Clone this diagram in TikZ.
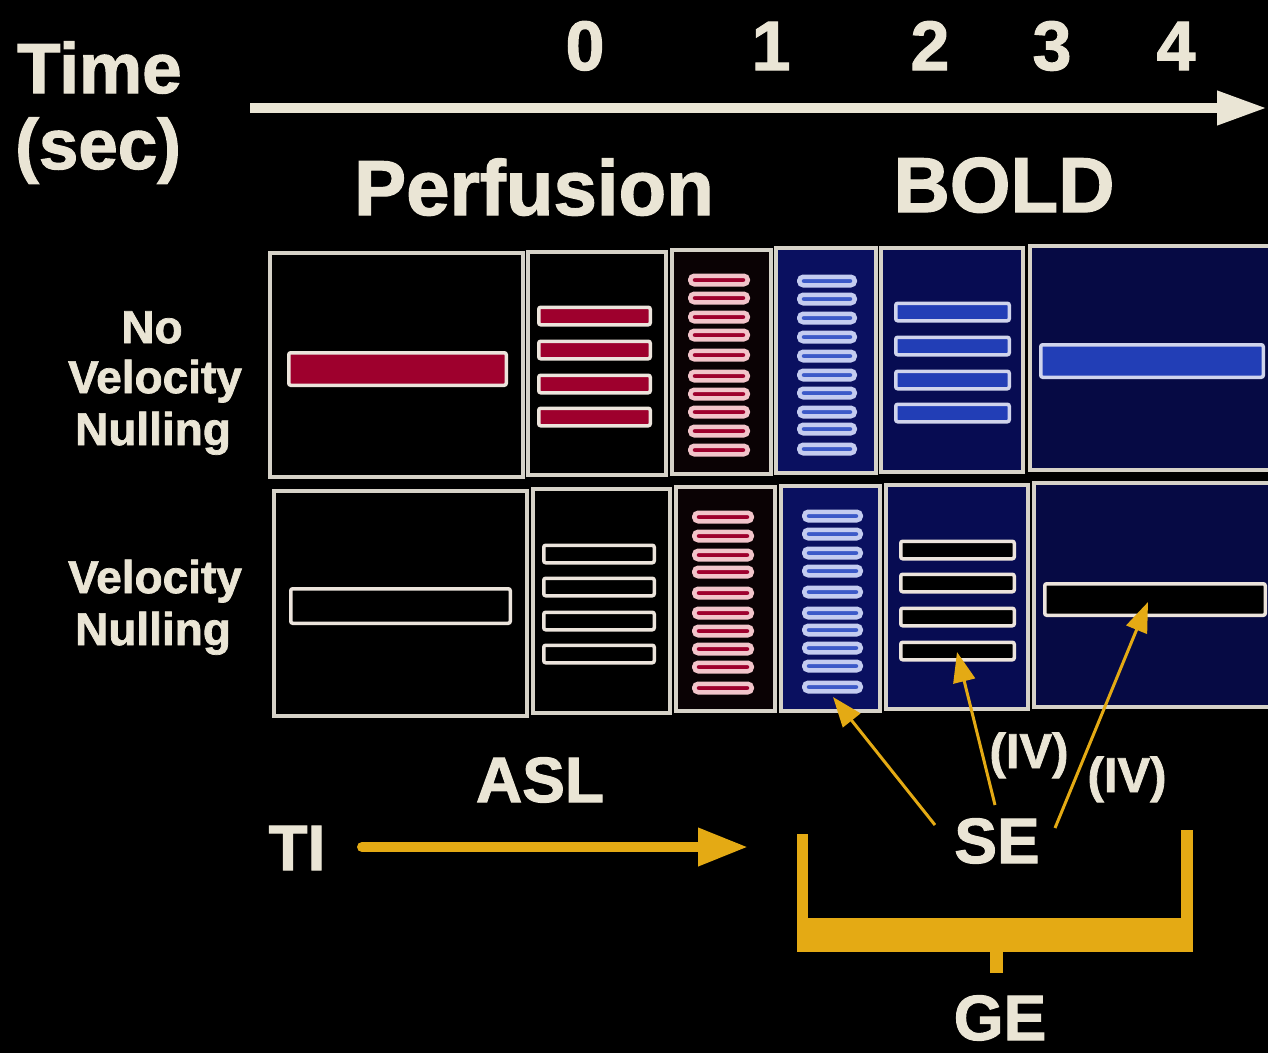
\documentclass[tikz,border=0pt]{standalone}
\usepackage{fontspec}
\setmainfont{Liberation Sans}[BoldFeatures={FakeBold=1.6}]
\usetikzlibrary{arrows.meta}
\definecolor{txt}{RGB}{234,229,213}
\definecolor{frame}{RGB}{214,210,200}
\definecolor{bout}{RGB}{236,228,220}
\definecolor{redf}{RGB}{158,0,45}
\definecolor{pinko}{RGB}{242,196,202}
\definecolor{bluef}{RGB}{34,62,182}
\definecolor{blueo}{RGB}{208,212,236}
\definecolor{sbluef}{RGB}{60,90,200}
\definecolor{sblueo}{RGB}{196,204,240}
\definecolor{navyA}{RGB}{10,16,96}
\definecolor{navyB}{RGB}{7,12,82}
\definecolor{navyC}{RGB}{6,10,68}
\definecolor{darkr}{RGB}{10,2,4}
\definecolor{gold}{RGB}{228,170,20}
\newcommand\myfs[1]{\fontsize{#1}{#1}\selectfont\bfseries}
\begin{document}
\begin{tikzpicture}[x=1pt,y=-1pt,
  lbl/.style={text=txt,inner sep=0pt,anchor=base,font=\myfs{#1}},
  panel/.style={draw=frame,line width=3.5pt},
  bar/.style={rectangle,inner sep=0pt,line width=3.5pt,rounded corners=2pt},
  bigred/.style={bar,draw=bout,fill=redf},
  smallred/.style={bar,draw=pinko,fill=redf,line width=4.5pt,rounded corners=4pt,minimum height=8.5pt},
  bigblue/.style={bar,draw=blueo,fill=bluef},
  smallblue/.style={bar,draw=sblueo,fill=sbluef,line width=4.5pt,rounded corners=4pt,minimum height=8.5pt},
  hollow/.style={bar,draw=bout,fill=black},
  goldarrow/.style={draw=gold,line width=3pt,-{Triangle[length=30pt,width=22pt]}}
]
\useasboundingbox (0,0) rectangle (1268,1053);
\clip (0,0) rectangle (1268,1053);
\fill[black] (0,0) rectangle (1268,1053);

% time axis
\node[lbl=71,anchor=base west] (time) at (17,93) {Time};
\node[lbl=71,anchor=base west] (sec) at (15,169) {(sec)};
\node[lbl=70] (t0) at (585,70) {0};
\node[lbl=70] (t1) at (771,70) {1};
\node[lbl=70] (t2) at (930,70) {2};
\node[lbl=70] (t3) at (1052,70) {3};
\node[lbl=70] (t4) at (1176,70) {4};
\coordinate (axA) at (250,108);
\coordinate (axB) at (1267,108);
\draw[txt,line width=10pt,-{Triangle[length=50pt,width=32pt]}] (axA) -- (axB);

\node[lbl=78] (perf) at (534,215) {Perfusion};
\node[lbl=78] (bold) at (1004,212) {BOLD};

% row labels
\node[lbl=46] (no) at (152,343) {No};
\node[lbl=46] (vel1) at (155,393) {Velocity};
\node[lbl=46] (nul1) at (153,445) {Nulling};
\node[lbl=46] (vel2) at (155,593) {Velocity};
\node[lbl=46] (nul2) at (153,645) {Nulling};

% panels row 1
\draw[panel,fill=black] (270,253) rectangle (523,477);
\draw[panel,fill=black] (528,252) rectangle (666,475);
\draw[panel,fill=darkr] (672,250) rectangle (771,474);
\draw[panel,fill=navyA] (776,248) rectangle (876,473);
\draw[panel,fill=navyB] (881,248) rectangle (1023,472);
\draw[panel,fill=navyC] (1030,246) rectangle (1290,470);
% panels row 2
\draw[panel,fill=black] (274,491) rectangle (527,716);
\draw[panel,fill=black] (533,489) rectangle (670,713);
\draw[panel,fill=darkr] (676,487) rectangle (775,711);
\draw[panel,fill=navyA] (781,486) rectangle (880,711);
\draw[panel,fill=navyB] (886,485) rectangle (1028,709);
\draw[panel,fill=navyC] (1034,483) rectangle (1290,707);

% bars row 1
\node[bigred,minimum width=217.5pt,minimum height=32.5pt] (a1) at (397.5,369) {};
\foreach \y [count=\i] in {316,350,384,417}
  \node[bigred,minimum width=111.5pt,minimum height=17.5pt] (a2\i) at (594.5,\y) {};
\foreach \y [count=\i] in {280,298,317,335,355,376,394,412,431,450}
  \node[smallred,minimum width=57.5pt] (a3\i) at (719,\y) {};
\foreach \y [count=\i] in {281,299,318,337,356,375,393,412,429,449}
  \node[smallblue,minimum width=55.5pt] (a4\i) at (827,\y) {};
\foreach \y [count=\i] in {312,346,380,413}
  \node[bigblue,minimum width=113.5pt,minimum height=17.5pt] (a5\i) at (952.5,\y) {};
\node[bigblue,minimum width=222.5pt,minimum height=32.5pt] (a6) at (1152,361) {};

% bars row 2
\node[hollow,minimum width=219.5pt,minimum height=34.5pt] (b1) at (400.5,606) {};
\foreach \y [count=\i] in {554,587,621,654}
  \node[hollow,minimum width=110.5pt,minimum height=17.5pt] (b2\i) at (599,\y) {};
\foreach \y [count=\i] in {517,536,555,572,593,613,631,649,667,688}
  \node[smallred,minimum width=57.5pt] (b3\i) at (723,\y) {};
\foreach \y [count=\i] in {516,534,553,571,592,613,630,648,666,687}
  \node[smallblue,minimum width=56.5pt] (b4\i) at (832.5,\y) {};
\foreach \y [count=\i] in {550,583,617,651}
  \node[hollow,minimum width=113.5pt,minimum height=17.5pt] (b5\i) at (957.5,\y) {};
\node[hollow,minimum width=220.5pt,minimum height=31.5pt] (b6) at (1155,599.5) {};

% bottom labels
\node[lbl=64] (asl) at (540,802) {ASL};
\node[lbl=64] (ti) at (297,870) {TI};
\coordinate (tiA) at (362,847);
\coordinate (tiB) at (748,847);
\draw[gold,line width=10pt,line cap=round,-{Triangle[length=50pt,width=36pt]}] (tiA) -- (tiB);

\node[lbl=64] (se) at (997,863) {SE};
\node[lbl=49] (iv1) at (1029,768) {(IV)};
\node[lbl=49] (iv2) at (1127,792) {(IV)};
\node[lbl=64] (ge) at (1000,1040) {GE};

\coordinate (s1) at (935,825);
\coordinate (s2) at (995,805);
\coordinate (s3) at (1055,828);
\coordinate (e1) at (833,697);
\coordinate (e2) at (957,652);
\coordinate (e3) at (1148,602);
\draw[goldarrow] (s1) -- (e1);
\draw[goldarrow] (s2) -- (e2);
\draw[goldarrow] (s3) -- (e3);

% GE bracket
\fill[gold] (797,834) rectangle (808,952);
\fill[gold] (1181,830) rectangle (1193,952);
\fill[gold] (797,918) rectangle (1193,952);
\fill[gold] (990,950) rectangle (1003,973);
\end{tikzpicture}
\end{document}
